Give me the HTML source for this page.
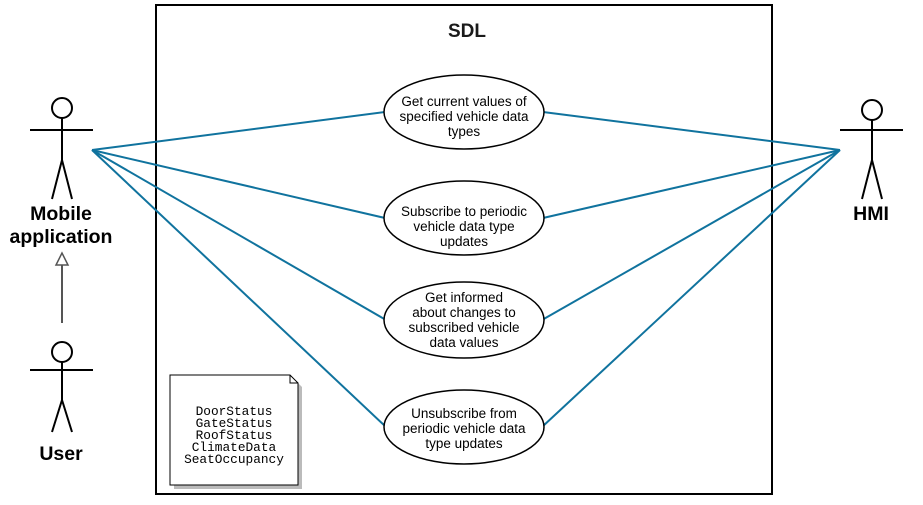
<!DOCTYPE html>
<html><head><style>body{margin:0;background:#fff}</style></head><body>
<svg width="923" height="500" xmlns="http://www.w3.org/2000/svg" font-family="Liberation Sans, sans-serif">
<rect x="156" y="5" width="616" height="489" fill="#fff" stroke="#000" stroke-width="2"/>
<text x="467" y="37" font-size="19" font-weight="bold" text-anchor="middle" fill="#1a1a1a">SDL</text>
<g stroke="#10739e" stroke-width="2" fill="none">
<line x1="92" y1="150" x2="385" y2="112"/><line x1="92" y1="150" x2="385" y2="218"/>
<line x1="92" y1="150" x2="386" y2="320"/><line x1="92" y1="150" x2="386" y2="427"/>
<line x1="840" y1="150" x2="543" y2="112"/><line x1="840" y1="150" x2="543" y2="218"/>
<line x1="840" y1="150" x2="542" y2="320"/><line x1="840" y1="150" x2="542" y2="427"/>
</g>
<g fill="#fff" stroke="#000" stroke-width="1.5">
<ellipse cx="464" cy="112" rx="80" ry="37"/><ellipse cx="464" cy="218" rx="80" ry="37"/>
<ellipse cx="464" cy="320" rx="80" ry="38"/><ellipse cx="464" cy="427" rx="80" ry="37"/>
</g>
<g font-size="13.5" text-anchor="middle" fill="#000">
<text x="464" y="106">Get current values of</text><text x="464" y="121">specified vehicle data</text><text x="464" y="136">types</text>
<text x="464" y="216">Subscribe to periodic</text><text x="464" y="231">vehicle data type</text><text x="464" y="246">updates</text>
<text x="464" y="302">Get informed</text><text x="464" y="317">about changes to</text><text x="464" y="332">subscribed vehicle</text><text x="464" y="347">data values</text>
<text x="464" y="418">Unsubscribe from</text><text x="464" y="433">periodic vehicle data</text><text x="464" y="448">type updates</text>
</g>
<path d="M174 379 H294 L302 387 V489 H174 Z" fill="#bbb"/>
<path d="M170 375 H290 L298 383 V485 H170 Z" fill="#fff" stroke="#000"/>
<path d="M290 375 V383 H298" fill="none" stroke="#000"/>
<g font-family="Liberation Mono, monospace" font-size="12.8" text-anchor="middle">
<text x="234" y="415">DoorStatus</text><text x="234" y="427">GateStatus</text><text x="234" y="439">RoofStatus</text><text x="234" y="451">ClimateData</text><text x="234" y="463">SeatOccupancy</text>
</g>
<g stroke="#000" stroke-width="2" fill="#fff">
<circle cx="62" cy="108" r="10"/><line x1="30" y1="130" x2="93" y2="130"/><path d="M62 118 V160 L52 199 M62 160 L72 199" fill="none"/>
<circle cx="62" cy="352" r="10"/><line x1="30" y1="370" x2="93" y2="370"/><path d="M62 362 V400 L52 432 M62 400 L72 432" fill="none"/>
<circle cx="872" cy="110" r="10"/><line x1="840" y1="130" x2="903" y2="130"/><path d="M872 120 V160 L862 199 M872 160 L882 199" fill="none"/>
</g>
<line x1="62" y1="323" x2="62" y2="265" stroke="#555" stroke-width="2"/>
<path d="M62 253 L56 265 H68 Z" fill="#fff" stroke="#555" stroke-width="1.5"/>
<g font-size="19.5" font-weight="bold" text-anchor="middle" fill="#000">
<text x="61" y="220">Mobile</text><text x="61" y="243">application</text>
<text x="61" y="460">User</text><text x="871" y="220">HMI</text>
</g>
</svg>
</body></html>
